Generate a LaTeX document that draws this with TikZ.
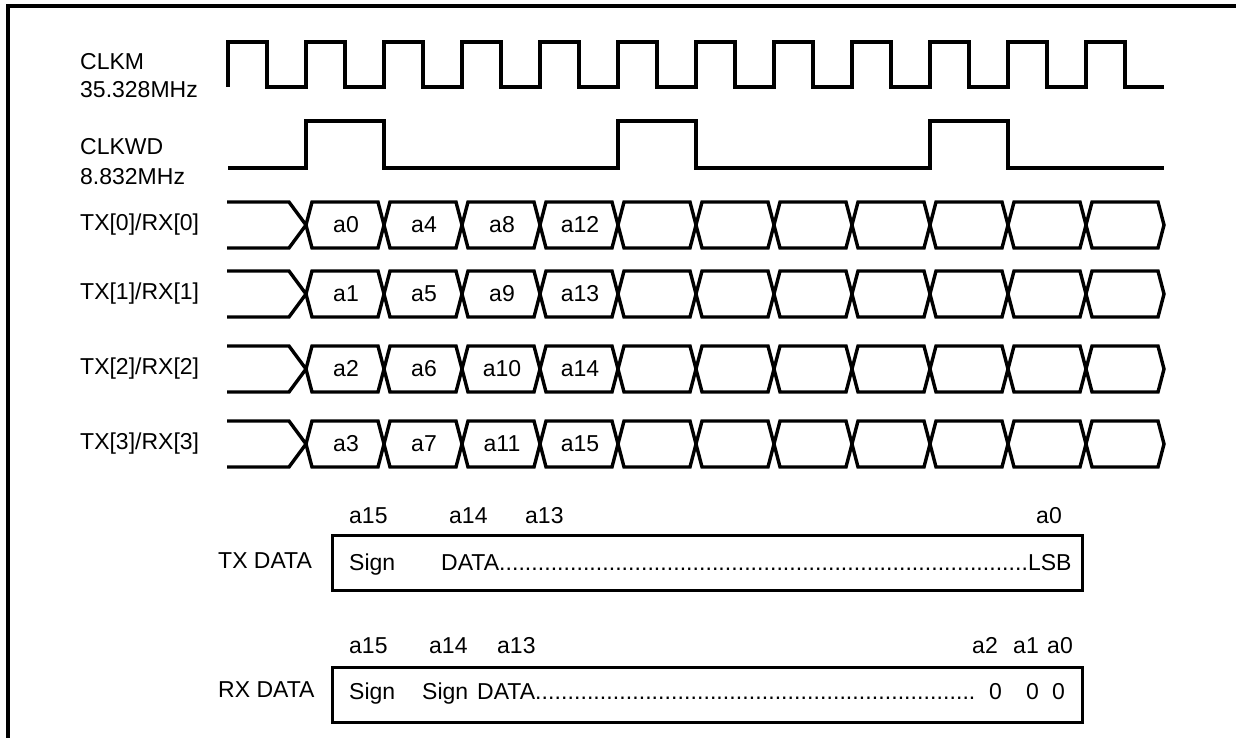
\documentclass[tikz,border=0pt]{standalone}
\usepackage{fontspec}
\setmainfont{Liberation Sans}
\begin{document}
\begin{tikzpicture}[x=1pt,y=-1pt,
  sig/.style={line width=3.4pt,line join=miter},
  frame/.style={line width=3.2pt},
  lbl/.style={anchor=west,inner sep=0pt,font=\fontsize{23}{27}\selectfont},
  txt/.style={inner sep=0pt,font=\fontsize{23}{27}\selectfont},
  box/.style={draw,line width=3.2pt,minimum width=750pt,minimum height=55pt,anchor=north west,inner sep=0pt}]
\useasboundingbox (0,0) rectangle (1236,738);
% frame
\draw[frame] (8,738) -- (8,6) -- (1236,6);
% labels
\node[lbl,anchor=base west] (lclkm) at (80,70) {CLKM};
\node[lbl,anchor=base west] (lclkmf) at (80,98) {35.328MHz};
\node[lbl,anchor=base west] (lclkwd) at (80,155) {CLKWD};
\node[lbl,anchor=base west] (lclkwdf) at (80,185) {8.832MHz};
% CLKM
\draw[sig] (228,87) \foreach \k in {0,2,...,22}{ -- ({228+39*\k},87) -- ({228+39*\k},42) -- ({267+39*\k},42) -- ({267+39*\k},87)} -- (1164,87);
% CLKWD
\draw[sig] (228,168) -- (306,168) -- (306,121) -- (384,121) -- (384,168) -- (618,168) -- (618,121) -- (696,121) -- (696,168) -- (930,168) -- (930,121) -- (1008,121) -- (1008,168) -- (1164,168);
% data rows
\foreach \m/\r/\va/\vb/\vc/\vd in {225/0/a0/a4/a8/a12, 294/1/a1/a5/a9/a13, 369/2/a2/a6/a10/a14, 444/3/a3/a7/a11/a15}{
  \node[lbl] (row\r) at (80,\m) {TX[\r]/RX[\r]};
  \draw[sig] (227,\m-23) -- (289,\m-23) -- (306,\m) -- (289,\m+23) -- (227,\m+23);
  \foreach \i in {0,...,10}{
    \draw[sig] ({306+78*\i},\m) -- ({312+78*\i},\m-23) -- ({378+78*\i},\m-23) -- ({384+78*\i},\m) -- ({378+78*\i},\m+23) -- ({312+78*\i},\m+23) -- cycle;
  }
  \node[txt] (c\r a) at (346,\m) {\va};
  \node[txt] (c\r b) at (424,\m) {\vb};
  \node[txt] (c\r c) at (502,\m) {\vc};
  \node[txt] (c\r d) at (580,\m) {\vd};
}
% TX DATA
\node[lbl] (txl) at (218,561) {TX DATA};
\node[box] (txbox) at (331,534) {};
\node[txt,anchor=base west] (txa15) at (349,523) {a15};
\node[txt,anchor=base west] (txa14) at (449,523) {a14};
\node[txt,anchor=base west] (txa13) at (525,523) {a13};
\node[txt,anchor=base west] (txa0) at (1036,523) {a0};
\node[txt,anchor=base west] (txsign) at (349,570) {Sign};
\node[txt,anchor=base west] (txdata) at (441,570) {\makebox[630pt][l]{DATA\xleaders\hbox{.}\hfill LSB}};
% RX DATA
\node[lbl] (rxl) at (218,690) {RX DATA};
\node[box] (rxbox) at (331,666) {};
\node[txt,anchor=base west] (rxa15) at (349,653) {a15};
\node[txt,anchor=base west] (rxa14) at (429,653) {a14};
\node[txt,anchor=base west] (rxa13) at (497,653) {a13};
\node[txt,anchor=base west] (rxa2) at (972,653) {a2};
\node[txt,anchor=base west] (rxa1) at (1013,653) {a1};
\node[txt,anchor=base west] (rxa0) at (1047,653) {a0};
\node[txt,anchor=base west] (rxsign1) at (349,699) {Sign};
\node[txt,anchor=base west] (rxsign2) at (422,699) {Sign};
\node[txt,anchor=base west] (rxdata) at (477,699) {\makebox[498pt][l]{DATA\xleaders\hbox{.}\hfill}};
\node[txt,anchor=base west] (rxz2) at (989,699) {0};
\node[txt,anchor=base west] (rxz1) at (1026,699) {0};
\node[txt,anchor=base west] (rxz0) at (1052,699) {0};
\end{tikzpicture}
\end{document}
